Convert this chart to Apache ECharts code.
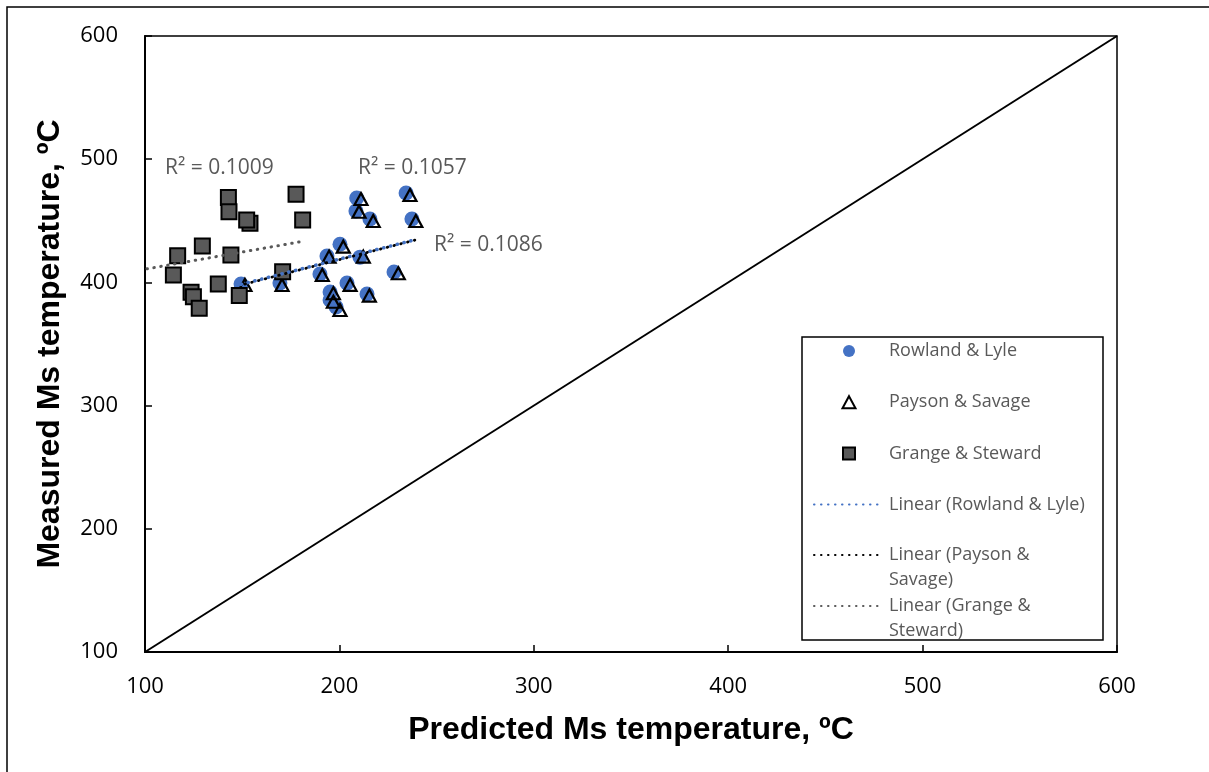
<!DOCTYPE html>
<html>
<head>
<meta charset="utf-8">
<script src="https://cdn.jsdelivr.net/npm/echarts@6/dist/echarts.min.js"></script>
<style>
  html, body { margin: 0; padding: 0; background: #fff; }
  #chart { width: 1209px; height: 772px; }
</style>
</head>
<body>
<div id="chart"></div>
<script>
// Predicted vs measured martensite-start (Ms) temperatures, three prediction formulas
const rowlandX = [208.9, 208.5, 215.7, 234.3, 237.3, 200.3, 193.6, 210.6, 190.0, 228.1, 203.9, 195.2, 214.2, 195.2, 198.3, 169.4, 149.4];
const rowlandY = [468.5, 458.0, 451.5, 472.6, 451.5, 431.0, 421.4, 420.5, 406.8, 408.4, 399.5, 392.2, 390.6, 385.7, 380.0, 399.5, 398.7];

const paysonX = [211.1, 210.1, 217.4, 236.3, 239.3, 202.0, 194.7, 212.3, 191.2, 230.3, 205.5, 196.9, 215.4, 196.9, 200.3, 170.5, 151.4];
const paysonY = [467.7, 457.4, 449.8, 470.9, 449.8, 429.0, 420.9, 420.9, 406.0, 407.4, 398.0, 391.2, 389.3, 384.3, 377.6, 397.9, 397.9];

const grangeX = [142.9, 143.2, 154.0, 152.3, 177.7, 181.1, 129.5, 116.8, 144.2, 114.6, 170.8, 137.7, 123.7, 124.9, 148.5, 127.9];
const grangeY = [468.9, 457.4, 448.0, 450.6, 471.5, 450.6, 429.5, 421.7, 422.2, 406.0, 408.7, 398.7, 392.0, 388.4, 389.3, 379.0];

// Linear trend lines (end points) and their R² values
const trendRowlandX = [149.4, 237.3];
const trendRowlandY = [398.4, 434.0];
const trendPaysonX = [151.4, 239.3];
const trendPaysonY = [398.6, 434.5];
const trendGrangeX = [101.0, 180.0];
const trendGrangeY = [411.0, 433.0];
const r2Labels = ['R² = 0.1009', 'R² = 0.1057', 'R² = 0.1086'];

// 1:1 reference line
const equalityX = [100, 600];
const equalityY = [100, 600];

const axisTicks = [100, 200, 300, 400, 500, 600];

const zip = (xs, ys) => xs.map((x, i) => [x, ys[i]]);

const names = {
  rl: 'Rowland & Lyle',
  ps: 'Payson & Savage',
  gs: 'Grange & Steward',
  lrl: 'Linear (Rowland & Lyle)',
  lps: 'Linear (Payson & Savage)',
  lgs: 'Linear (Grange & Steward)'
};
// two-line legend labels; the leading blank line keeps the first line level with the icon
const wrapped = {
  'Linear (Payson & Savage)': '\nLinear (Payson &\nSavage)',
  'Linear (Grange & Steward)': '\nLinear (Grange &\nSteward)'
};

const legendText = {
  color: '#595959',
  fontFamily: 'Open Sans',
  fontSize: 18,
  lineHeight: 25
};
const legendBase = {
  orient: 'vertical',
  left: 813,
  padding: 0,
  itemWidth: 70,
  itemHeight: 12,
  itemGap: 26.2,
  selectedMode: false,
  symbolKeepAspect: true,
  textStyle: legendText,
  formatter: n => wrapped[n] || n
};
const hideDot = { opacity: 0 };

const chart = echarts.init(document.getElementById('chart'), null, { renderer: 'canvas' });

const tickFont = { color: '#000', fontFamily: 'Open Sans', fontSize: 22 };
const titleFont = { color: '#000', fontFamily: 'Liberation Sans', fontWeight: 'bold', fontSize: 32 };
const r2Font = '21px "Open Sans"';

chart.setOption({
  animation: false,
  backgroundColor: '#fff',
  grid: {
    left: 145, right: 92, top: 36, bottom: 120,
    show: true, borderColor: '#000', borderWidth: 1.5, backgroundColor: 'transparent'
  },
  xAxis: {
    type: 'value', min: axisTicks[0], max: axisTicks[axisTicks.length - 1], interval: 100,
    name: 'Predicted Ms temperature, ºC', nameLocation: 'middle', nameGap: 62,
    nameTextStyle: titleFont,
    axisLine: { lineStyle: { color: '#000', width: 2 } },
    axisTick: { inside: true, length: 7, lineStyle: { color: '#000', width: 1.5 } },
    axisLabel: Object.assign({ margin: 24 }, tickFont),
    splitLine: { show: false }
  },
  yAxis: {
    type: 'value', min: axisTicks[0], max: axisTicks[axisTicks.length - 1], interval: 100,
    name: 'Measured Ms temperature, ºC', nameLocation: 'middle', nameGap: 79,
    nameTextStyle: titleFont,
    axisLine: { lineStyle: { color: '#000', width: 2 } },
    axisTick: { inside: true, length: 7, lineStyle: { color: '#000', width: 1.5 } },
    axisLabel: Object.assign({ margin: 27 }, tickFont),
    splitLine: { show: false }
  },
  legend: [
    Object.assign({}, legendBase, {
      top: 338.5,
      data: [
        { name: names.rl, icon: 'circle' },
        { name: names.ps, icon: 'path://M6.5,0 L13,12 L0,12 Z' },
        { name: names.gs, icon: 'path://M0,0 L11,0 L11,11 L0,11 Z' },
        { name: names.lrl, itemStyle: hideDot }
      ]
    }),
    Object.assign({}, legendBase, {
      top: 517.5,
      data: [{ name: names.lps, itemStyle: hideDot }]
    }),
    Object.assign({}, legendBase, {
      top: 568.5,
      data: [{ name: names.lgs, itemStyle: hideDot }]
    })
  ],
  graphic: [
    { type: 'rect', silent: true, z: 100,
      shape: { x: 7, y: 7, width: 1400, height: 1000 },
      style: { fill: 'none', stroke: '#000', lineWidth: 1.5 } },
    { type: 'rect', silent: true, z: 100,
      shape: { x: 802, y: 337, width: 301, height: 303 },
      style: { fill: 'none', stroke: '#000', lineWidth: 1.5 } },
    { type: 'text', silent: true, z: 100,
      style: { text: r2Labels[0], x: 165, y: 168, verticalAlign: 'middle', fill: '#595959', font: r2Font } },
    { type: 'text', silent: true, z: 100,
      style: { text: r2Labels[1], x: 358, y: 168, verticalAlign: 'middle', fill: '#595959', font: r2Font } },
    { type: 'text', silent: true, z: 100,
      style: { text: r2Labels[2], x: 434, y: 245, verticalAlign: 'middle', fill: '#595959', font: r2Font } }
  ],
  series: [
    {
      type: 'line', name: '1:1', data: zip(equalityX, equalityY),
      symbol: 'none', silent: true, z: 1,
      lineStyle: { color: '#000', width: 2 }
    },
    {
      type: 'scatter', name: names.rl, data: zip(rowlandX, rowlandY),
      symbol: 'circle', symbolSize: 15, z: 2,
      itemStyle: { color: '#4472C4', opacity: 1 }
    },
    {
      type: 'scatter', name: names.ps, data: zip(paysonX, paysonY),
      symbol: 'triangle', symbolSize: [13, 12], z: 3,
      itemStyle: { color: 'rgba(255,255,255,0)', borderColor: '#000', borderWidth: 2.2, opacity: 1 }
    },
    {
      type: 'scatter', name: names.gs, data: zip(grangeX, grangeY),
      symbol: 'rect', symbolSize: 15, z: 4,
      itemStyle: { color: '#595959', borderColor: '#000', borderWidth: 2, opacity: 1 }
    },
    {
      type: 'line', name: names.lrl, data: zip(trendRowlandX, trendRowlandY),
      symbol: 'none', z: 5,
      lineStyle: { color: '#4472C4', width: 3.5, type: [0.5, 6.5], cap: 'round' }
    },
    {
      type: 'line', name: names.lps, data: zip(trendPaysonX, trendPaysonY),
      symbol: 'none', z: 6,
      lineStyle: { color: '#000', width: 2.8, type: [0.5, 6.5], cap: 'round' }
    },
    {
      type: 'line', name: names.lgs, data: zip(trendGrangeX, trendGrangeY),
      symbol: 'none', z: 5,
      lineStyle: { color: '#595959', width: 3, type: [0.5, 6.5], cap: 'round' }
    }
  ]
});
</script>
</body>
</html>
